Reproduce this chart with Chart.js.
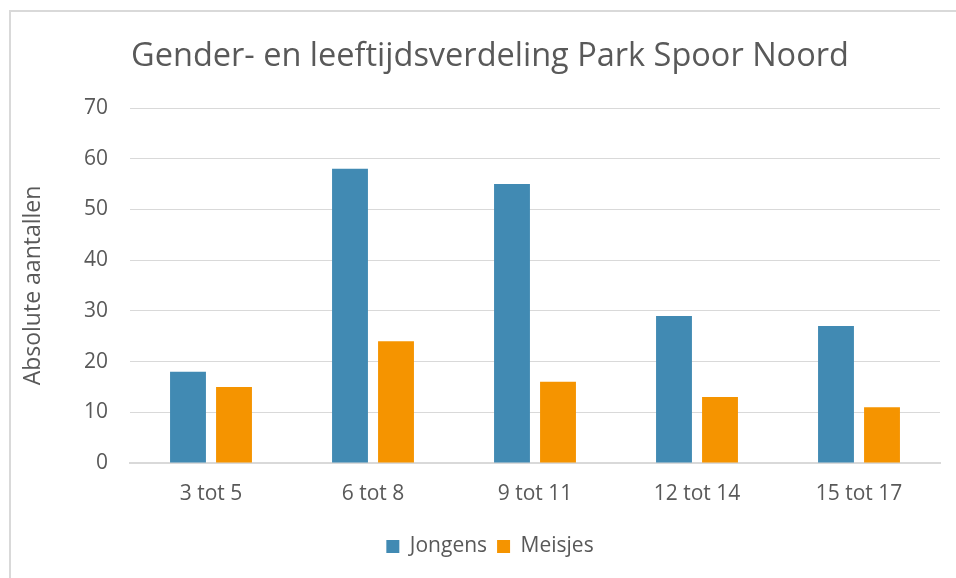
<!DOCTYPE html>
<html>
<head>
<meta charset="utf-8">
<title>Gender- en leeftijdsverdeling Park Spoor Noord</title>
<script src="https://cdn.jsdelivr.net/npm/chart.js@4/dist/chart.umd.min.js"></script>
<style>
    html, body { margin: 0; padding: 0; background: #fff; overflow: hidden; }
    #wrap { position: relative; width: 956px; height: 578px; }
    #frame {
        position: absolute; left: 9px; top: 10px; width: 980px; height: 600px;
        border: 2px solid #d9d9d9; box-sizing: border-box; pointer-events: none;
    }
    canvas { position: absolute; left: 0; top: 0; }
</style>
</head>
<body>
<div id="wrap">
    <div id="frame"></div>
    <canvas id="genderChart" width="956" height="578"></canvas>
</div>
<script>
// Leeftijdsgroepen en aantallen per geslacht
const leeftijden = ['3 tot 5', '6 tot 8', '9 tot 11', '12 tot 14', '15 tot 17'];
const jongens = [18, 58, 55, 29, 27];
const meisjes = [15, 24, 16, 13, 11];
const yTicks = [0, 10, 20, 30, 40, 50, 60, 70];

const tekstKleur = '#595959';
const rasterKleur = '#d9d9d9';
const lettertype = "'Open Sans', 'Noto Sans', sans-serif";

const ctx = document.getElementById('genderChart').getContext('2d');
const genderChart = new Chart(ctx, {
    type: 'bar',
    data: {
        labels: leeftijden,
        datasets: [
            {
                label: 'Jongens',
                data: jongens,
                backgroundColor: '#418ab3',
                borderWidth: 0
            },
            {
                label: 'Meisjes',
                data: meisjes,
                backgroundColor: '#f59400',
                borderWidth: 0
            }
        ]
    },
    options: {
        responsive: false,
        animation: false,
        categoryPercentage: 0.568,
        barPercentage: 0.78,
        layout: {
            // links 40px zodat titel en legenda iets rechts van het midden staan
            padding: { left: 40, right: 16, top: 0, bottom: 11 }
        },
        plugins: {
            title: {
                display: true,
                text: 'Gender- en leeftijdsverdeling Park Spoor Noord',
                color: tekstKleur,
                font: { family: lettertype, size: 32.5, weight: 'normal', lineHeight: 1.2 },
                padding: { top: 37, bottom: 32 }
            },
            legend: {
                position: 'bottom',
                labels: {
                    color: tekstKleur,
                    font: { family: lettertype, size: 21 },
                    boxWidth: 13,
                    boxHeight: 13,
                    padding: 10
                }
            },
            tooltip: { enabled: false }
        },
        scales: {
            x: {
                grid: { display: false, drawTicks: false },
                border: { display: true, color: rasterKleur, width: 2 },
                ticks: {
                    color: tekstKleur,
                    font: { family: lettertype, size: 21 },
                    padding: 18
                },
                afterFit: function (scale) {
                    scale.height = 63;
                }
            },
            y: {
                min: 0,
                max: 70,
                afterBuildTicks: function (scale) {
                    scale.ticks = yTicks.map(v => ({ value: v }));
                },
                grid: { color: rasterKleur, lineWidth: 1, drawTicks: false },
                border: { display: false },
                ticks: {
                    color: tekstKleur,
                    font: { family: lettertype, size: 21 },
                    padding: 22
                },
                title: {
                    display: true,
                    text: 'Absolute aantallen',
                    color: tekstKleur,
                    font: { family: lettertype, size: 23, lineHeight: 1.2 },
                    // negatief: as-titel valt in de linker opvulling
                    padding: { top: -20.8, bottom: 0 }
                },
                afterFit: function (scale) {
                    scale.width = 90;
                }
            }
        }
    }
});
</script>
</body>
</html>
